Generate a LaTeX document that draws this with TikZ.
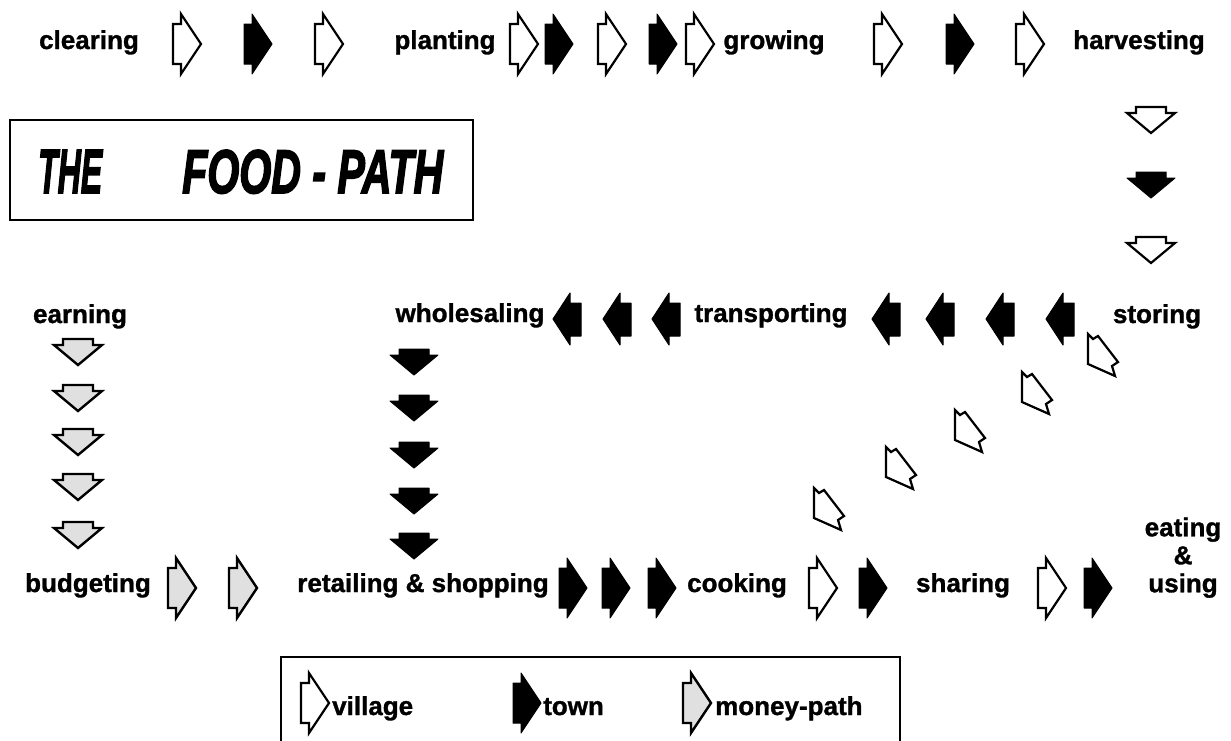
\documentclass[tikz,border=0pt]{standalone}
\usepackage{fontspec}
\setmainfont{Liberation Sans}
\newfontfamily\heavy{Liberation Sans Bold}[FakeBold=1.2]
\newfontfamily\heavyit{Liberation Sans Bold Italic}[FakeBold=3]
\usepackage{graphicx}
\begin{document}
\begin{tikzpicture}[x=1pt,y=-1pt,
  lbl/.style={font=\fontsize{26}{28}\selectfont\heavy, inner sep=0pt, anchor=base},
  lgd/.style={font=\fontsize{26}{28}\selectfont\heavy, inner sep=0pt, anchor=base west},
  vil/.style={draw=black, fill=white, line width=2.2pt, line join=miter},
  twn/.style={draw=black, fill=black, line width=1pt, line join=round},
  mon/.style={draw=black, fill=black!12, line width=2.4pt, line join=miter},
  rarr/.pic={\path[#1] (-14,-20) -- (-6,-20) -- (-6,-30) -- (14,0) -- (-6,30) -- (-6,20) -- (-14,20) -- cycle;},
  larr/.pic={\path[#1] (14,-16) -- (3,-16) -- (3,-26) -- (-14,0) -- (3,26) -- (3,17) -- (14,17) -- cycle;},
  darr/.pic={\path[#1] (-15,-13) -- (15,-13) -- (15,-7) -- (24,-7) -- (0,13) -- (-24,-7) -- (-15,-7) -- cycle;},
  diagarr/.pic={\path[#1] (-14,-20) -- (-9,-15) -- (-4,-18) -- (16,8) -- (10,12) -- (13,22) -- (-14,10) -- cycle;}
]
\useasboundingbox[fill=white] (0,0) rectangle (1231,740);

% title box
\node[draw, line width=2pt, minimum width=463pt, minimum height=100pt, inner sep=0pt] (titlebox) at (241.5,170) {};
\node[anchor=base west, inner sep=0pt] (the) at (38,193) {\resizebox{64pt}{43pt}{\heavyit THE}};
\node[anchor=base west, inner sep=0pt] (foodpath) at (182,193) {\resizebox{261pt}{43pt}{\heavyit FOOD - PATH}};

% top row
\node[lbl] (clearing) at (89,49) {clearing};
\node[lbl] (planting) at (445,49) {planting};
\node[lbl] (growing) at (774,49) {growing};
\node[lbl] (harvesting) at (1139,49) {harvesting};
\pic at (187,44) {rarr=vil};
\pic at (258,44) {rarr=twn};
\pic at (329,44) {rarr=vil};
\pic at (524,44) {rarr=vil};
\pic at (559,44) {rarr=twn};
\pic at (612,44) {rarr=vil};
\pic at (663,44) {rarr=twn};
\pic at (700,44) {rarr=vil};
\pic at (888,44) {rarr=vil};
\pic at (960,44) {rarr=twn};
\pic at (1030,44) {rarr=vil};

% right column
\pic at (1151,120) {darr=vil};
\pic at (1151,185) {darr=twn};
\pic at (1151,250) {darr=vil};

% middle row
\node[lbl] (earning) at (80,323) {earning};
\node[lbl] (wholesaling) at (470,322) {wholesaling};
\node[lbl] (transporting) at (771,322) {transporting};
\node[lbl] (storing) at (1157,323) {storing};
\pic at (567,319) {larr=twn};
\pic at (617,319) {larr=twn};
\pic at (666,319) {larr=twn};
\pic at (886,319) {larr=twn};
\pic at (940,319) {larr=twn};
\pic at (1000,319) {larr=twn};
\pic at (1060,319) {larr=twn};

% diagonal village arrows
\pic at (1102,354) {diagarr=vil};
\pic at (1036,392) {diagarr=vil};
\pic at (969,430) {diagarr=vil};
\pic at (900,467) {diagarr=vil};
\pic at (828,508) {diagarr=vil};

% money column
\pic at (78,352) {darr=mon};
\pic at (78,398) {darr=mon};
\pic at (78,442) {darr=mon};
\pic at (78,487) {darr=mon};
\pic at (78,535) {darr=mon};

% wholesaling column
\pic at (414,362) {darr=twn};
\pic at (414,408) {darr=twn};
\pic at (414,455) {darr=twn};
\pic at (414,501) {darr=twn};
\pic at (414,546) {darr=twn};

% bottom row
\node[lbl] (budgeting) at (88,592) {budgeting};
\node[lbl] (retailing) at (423,592) {retailing \& shopping};
\node[lbl] (cooking) at (737,592) {cooking};
\node[lbl] (sharing) at (963,592) {sharing};
\node[font=\fontsize{26}{28}\selectfont\heavy, inner sep=0pt, align=center, anchor=south] (eating) at (1183,598) {eating\\\&\\using};
\pic at (182,588) {rarr=mon};
\pic at (243,588) {rarr=mon};
\pic at (573,588) {rarr=twn};
\pic at (616,588) {rarr=twn};
\pic at (662,588) {rarr=twn};
\pic at (823,588) {rarr=vil};
\pic at (873,588) {rarr=twn};
\pic at (1052,588) {rarr=vil};
\pic at (1098,588) {rarr=twn};

% legend
\draw[line width=1.5pt] (281,742) -- (281,657) -- (900,657) -- (900,742);
\pic at (315,703) {rarr=vil};
\node[lgd] (village) at (332,715) {village};
\pic at (527,703) {rarr=twn};
\node[lgd] (town) at (543,715) {town};
\pic at (697,703) {rarr=mon};
\node[lgd] (money) at (715,715) {money-path};
\end{tikzpicture}
\end{document}
